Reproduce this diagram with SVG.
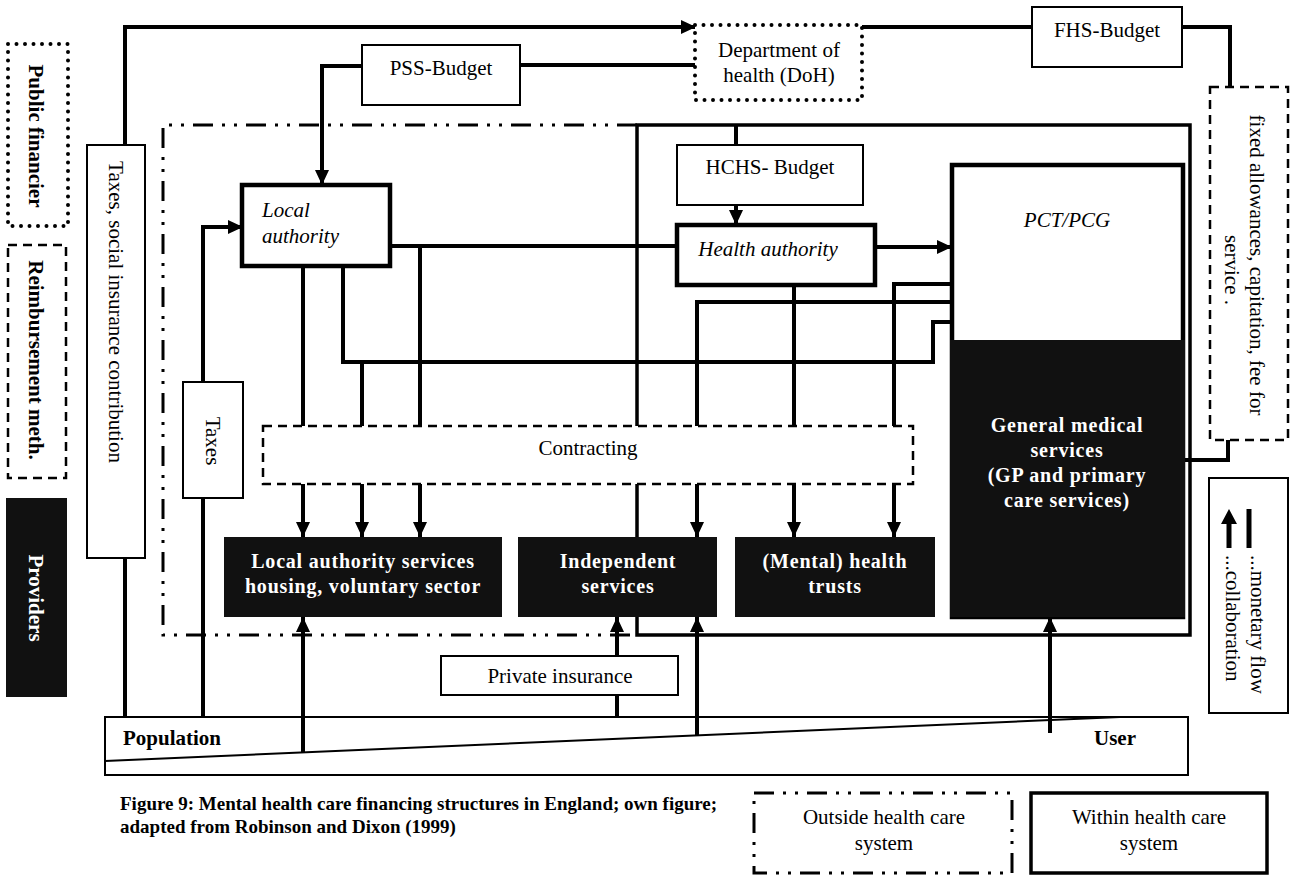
<svg xmlns="http://www.w3.org/2000/svg" width="1295" height="880" viewBox="0 0 1295 880">
<style>
text{font-family:"Liberation Serif","Times New Roman",serif;font-size:21px;fill:#000}
.b{font-weight:bold}
.i{font-style:italic}
.w{fill:#fff;font-weight:bold;font-size:20px;letter-spacing:0.8px}
.thin{fill:#fff;stroke:#000;stroke-width:2}
.thick{fill:#fff;stroke:#000;stroke-width:4.5}
.blk{fill:#111;stroke:none}
.ln{fill:none;stroke:#000;stroke-width:4;stroke-linejoin:miter}
.dot{fill:#fff;stroke:#000;stroke-width:4;stroke-dasharray:0 8.5;stroke-linecap:round}
.dash{fill:#fff;stroke:#000;stroke-width:2.5;stroke-dasharray:9 6}
.dd{fill:none;stroke:#000;stroke-width:3;stroke-dasharray:20 9 3 9 3 9}
.sys{fill:none;stroke:#000;stroke-width:3.5}
</style>
<defs>
<marker id="ah" viewBox="0 0 15 14" refX="15" refY="7" markerWidth="15" markerHeight="14" markerUnits="userSpaceOnUse" orient="auto">
<path d="M0,0 L15,7 L0,14 z" fill="#000"/>
</marker>
</defs>
<rect width="1295" height="880" fill="#fff"/>

<g id="boundaries">
<path class="dd" d="M637,125 H163 V635 H637"/>
<path class="sys" d="M637,125 H1190 V635 H637 Z"/>
</g>

<g id="population">
<rect class="thin" x="105" y="717" width="1083" height="58"/>
<path d="M105,761 L1120,717" stroke="#000" stroke-width="2" fill="none"/>
<text class="b" x="123" y="745">Population</text>
<text class="b" x="1094" y="745">User</text>
</g>

<g id="connectors">
<path class="ln" d="M125,145 V27 H696" marker-end="url(#ah)"/>
<path class="ln" d="M862,27 H1032"/>
<path class="ln" d="M1182,27 H1230 V87"/>
<path class="ln" d="M520,65 H695"/>
<path class="ln" d="M362,66 H322 V185" marker-end="url(#ah)"/>
<path class="ln" d="M125,558 V717"/>
<path class="ln" d="M203,717 V498"/>
<path class="ln" d="M203,382 V227 H243" marker-end="url(#ah)"/>
<path class="ln" d="M390,246 H677"/>
<path class="ln" d="M736,125 V145"/>
<path class="ln" d="M736,205 V225" marker-end="url(#ah)"/>
<path class="ln" d="M875,247 H952" marker-end="url(#ah)"/>
<path class="ln" d="M303,266 V426"/>
<path class="ln" d="M343,266 V362 H933 V322 H952"/>
<path class="ln" d="M362,362 V426"/>
<path class="ln" d="M420,246 V426"/>
<path class="ln" d="M794,285 V426"/>
<path class="ln" d="M697,426 V302 H952"/>
<path class="ln" d="M894,426 V284 H952"/>
<path class="ln" d="M303,484 V537" marker-end="url(#ah)"/>
<path class="ln" d="M362,484 V537" marker-end="url(#ah)"/>
<path class="ln" d="M420,484 V537" marker-end="url(#ah)"/>
<path class="ln" d="M697,484 V537" marker-end="url(#ah)"/>
<path class="ln" d="M794,484 V537" marker-end="url(#ah)"/>
<path class="ln" d="M894,484 V537" marker-end="url(#ah)"/>
<path class="ln" d="M303,752 V617" marker-end="url(#ah)"/>
<path class="ln" d="M617,717 V695"/>
<path class="ln" d="M617,656 V617" marker-end="url(#ah)"/>
<path class="ln" d="M697,736 V617" marker-end="url(#ah)"/>
<path class="ln" d="M1050,733 V617" marker-end="url(#ah)"/>
<path class="ln" d="M1183,460 H1228 V440"/>
</g>

<g id="legend-public-financier">
<rect class="dot" x="8" y="44" width="60" height="182"/>
<text class="b" transform="translate(36,136) rotate(90)" text-anchor="middle" dy="0.35em">Public financier</text>
</g>
<g id="legend-reimbursement">
<rect class="dash" x="8" y="245" width="58" height="233"/>
<text class="b" transform="translate(36,360) rotate(90)" text-anchor="middle" dy="0.35em">Reimbursement meth.</text>
</g>
<g id="legend-providers">
<rect class="blk" x="6" y="498" width="61" height="199"/>
<text class="b" style="fill:#fff" transform="translate(36,598) rotate(90)" text-anchor="middle" dy="0.35em">Providers</text>
</g>

<g id="taxes-social">
<rect class="thin" x="87" y="145" width="58" height="413"/>
<text transform="translate(116,312) rotate(90)" text-anchor="middle" dy="0.35em">Taxes, social insurance contribution</text>
</g>
<g id="taxes">
<rect class="thin" x="183" y="382" width="60" height="116"/>
<text transform="translate(213,441) rotate(90)" text-anchor="middle" dy="0.35em">Taxes</text>
</g>

<g id="doh">
<rect class="dot" x="695" y="25" width="167" height="75"/>
<text x="779" y="57" text-anchor="middle">Department of</text>
<text x="779" y="82" text-anchor="middle">health (DoH)</text>
</g>
<g id="pss-budget">
<rect class="thin" x="362" y="45" width="158" height="60"/>
<text x="441" y="75" text-anchor="middle">PSS-Budget</text>
</g>
<g id="fhs-budget">
<rect class="thin" x="1032" y="7" width="150" height="60"/>
<text x="1107" y="37" text-anchor="middle">FHS-Budget</text>
</g>
<g id="fixed-allowances">
<rect class="dash" x="1210" y="87" width="78" height="353"/>
<text transform="translate(1257,265) rotate(90)" text-anchor="middle" dy="0.35em">fixed allowances, capitation, fee for</text>
<text transform="translate(1232,270) rotate(90)" text-anchor="middle" dy="0.35em">service .</text>
</g>

<g id="local-authority">
<rect class="thick" x="242" y="185" width="148" height="81"/>
<text class="i" x="262" y="217">Local</text>
<text class="i" x="262" y="243">authority</text>
</g>
<g id="hchs-budget">
<rect class="thin" x="677" y="145" width="186" height="60"/>
<text x="770" y="174" text-anchor="middle">HCHS- Budget</text>
</g>
<g id="health-authority">
<rect class="thick" x="677" y="225" width="198" height="60"/>
<text class="i" x="768" y="256" text-anchor="middle">Health authority</text>
</g>
<g id="pct-pcg">
<rect class="thick" x="952" y="165" width="231" height="452"/>
<text class="i" x="1067" y="227" text-anchor="middle">PCT/PCG</text>
</g>
<g id="general-medical">
<rect class="blk" x="950" y="340" width="235" height="277"/>
<text class="w" x="1067" y="432" text-anchor="middle">General medical</text>
<text class="w" x="1067" y="457" text-anchor="middle">services</text>
<text class="w" x="1067" y="482" text-anchor="middle">(GP and primary</text>
<text class="w" x="1067" y="507" text-anchor="middle">care services)</text>
</g>

<g id="contracting">
<rect class="dash" x="263" y="426" width="650" height="58"/>
<text x="588" y="455" text-anchor="middle">Contracting</text>
</g>

<g id="la-services">
<rect class="blk" x="224" y="537" width="278" height="80"/>
<text class="w" x="363" y="568" text-anchor="middle">Local authority services</text>
<text class="w" x="363" y="593" text-anchor="middle">housing, voluntary sector</text>
</g>
<g id="independent">
<rect class="blk" x="518" y="537" width="199" height="80"/>
<text class="w" x="618" y="568" text-anchor="middle">Independent</text>
<text class="w" x="618" y="593" text-anchor="middle">services</text>
</g>
<g id="mental-health-trusts">
<rect class="blk" x="735" y="537" width="200" height="80"/>
<text class="w" x="835" y="568" text-anchor="middle">(Mental) health</text>
<text class="w" x="835" y="593" text-anchor="middle">trusts</text>
</g>

<g id="private-insurance">
<rect class="thin" x="441" y="656" width="237" height="39"/>
<text x="560" y="683" text-anchor="middle">Private insurance</text>
</g>

<g id="legend-flow">
<rect class="thin" x="1209" y="478" width="79" height="235"/>
<path d="M1229,548 V522" stroke="#000" stroke-width="5" fill="none"/>
<path d="M1221,524 L1229,509 L1237,524 z" fill="#000"/>
<path d="M1249,509 V548" stroke="#000" stroke-width="5" fill="none"/>
<text transform="translate(1258,555) rotate(90)" dy="0.35em">...monetary flow</text>
<text transform="translate(1233,555) rotate(90)" dy="0.35em">...collaboration</text>
</g>

<g id="legend-outside">
<rect class="dd" x="754" y="793" width="258" height="80"/>
<text x="884" y="824" text-anchor="middle">Outside health care</text>
<text x="884" y="850" text-anchor="middle">system</text>
</g>
<g id="legend-within">
<rect class="sys" x="1031" y="793" width="236" height="80"/>
<text x="1149" y="824" text-anchor="middle">Within health care</text>
<text x="1149" y="850" text-anchor="middle">system</text>
</g>

<g id="caption">
<text class="b" x="120" y="810" style="font-size:19px">Figure 9: Mental health care financing structures in England; own figure;</text>
<text class="b" x="120" y="833" style="font-size:19px">adapted from Robinson and Dixon (1999)</text>
</g>
</svg>
